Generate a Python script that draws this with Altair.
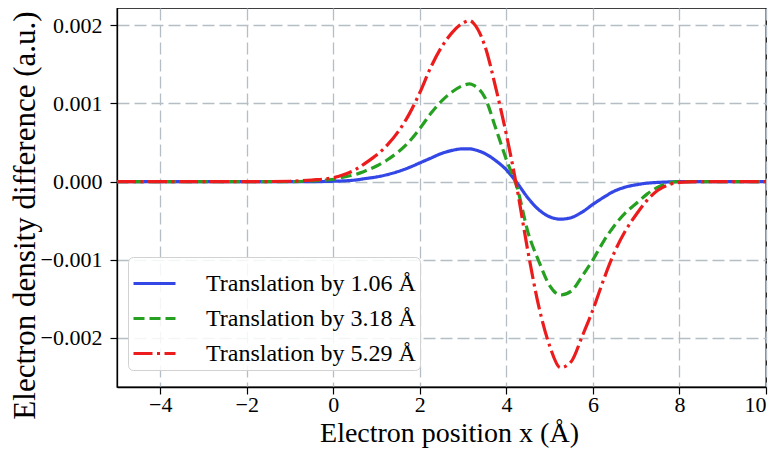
import altair as alt
import pandas as pd

# x positions (Å)
x_vals = [-5.0, -4.0, -3.0, -2.0, -1.0, -0.5, 0.0, 0.25, 0.5, 0.75, 1.0, 1.25, 1.5, 1.75,
          2.0, 2.25, 2.5, 2.75, 3.0, 3.15, 3.25, 3.5, 3.75, 4.0, 4.25, 4.5, 4.75, 5.0,
          5.25, 5.5, 5.75, 6.0, 6.25, 6.5, 6.75, 7.0, 7.25, 7.5, 7.75, 8.0, 8.5, 9.0, 10.0]

blue_vals = [0, 0, 0, 0, 0, 0, 0.000005, 0.00001, 0.00002, 0.00004, 0.00006, 0.00009, 0.00013, 0.00018,
             0.00024, 0.00030, 0.00036, 0.00040, 0.00042, 0.00042, 0.00041, 0.00036, 0.00027, 0.00015,
             -0.00002, -0.00021, -0.00036, -0.00045, -0.00048, -0.00046, -0.00039, -0.00029, -0.00020,
             -0.00012, -0.00007, -0.00004, -0.00002, -0.00001, -0.000004, 0, 0, 0, 0]

green_vals = [0, 0, 0, 0, 0, 0.00001, 0.00003, 0.00006, 0.00009, 0.00014, 0.00020, 0.00028, 0.00038, 0.00051,
              0.00068, 0.00087, 0.00103, 0.00115, 0.00123, 0.00125, 0.00123, 0.00108, 0.00069, 0.00028,
              -0.00008, -0.00065, -0.00102, -0.00133, -0.00145, -0.00140, -0.00121, -0.00100, -0.00076,
              -0.00056, -0.00040, -0.00028, -0.00016, -0.00007, -0.00002, 0, 0, 0, 0]

red_vals = [0, 0, 0, 0, 0.000005, 0.00002, 0.00005, 0.00009, 0.00015, 0.00024, 0.00034, 0.00047, 0.00064, 0.00086,
            0.00114, 0.00146, 0.00172, 0.00191, 0.00203, 0.00206, 0.00202, 0.00174, 0.00121, 0.00060,
            -0.00010, -0.00090, -0.00160, -0.00210, -0.00238, -0.00230, -0.00198, -0.00164, -0.00125,
            -0.00090, -0.00063, -0.00042, -0.00024, -0.00011, -0.00004, -0.00001, 0, 0, 0]

series_names = ["Translation by 1.06 Å", "Translation by 3.18 Å", "Translation by 5.29 Å"]
series_colors = ["#3346e6", "#26a020", "#ec1c1c"]
series_dashes = [[1, 0], [11, 5], [19, 4.5, 3, 4.5]]

x_ticks = [-4, -2, 0, 2, 4, 6, 8, 10]
y_ticks = [-0.002, -0.001, 0.0, 0.001, 0.002]

rows = []
for name, vals in zip(series_names, [blue_vals, green_vals, red_vals]):
    for xv, yv in zip(x_vals, vals):
        rows.append({"x": xv, "y": yv, "series": name})
df = pd.DataFrame(rows)

FONT = "Liberation Serif"

legend = alt.Legend(
    title=None, orient="none", legendX=11, legendY=249,
    symbolType="stroke", symbolSize=1764, symbolStrokeWidth=3,
    labelFont=FONT, labelFontSize=24, labelColor="black", labelLimit=400,
    labelOffset=29, padding=4, rowPadding=0,
    fillColor="rgba(255,255,255,0.85)", strokeColor="#d2d2d2", cornerRadius=5,
)

chart = alt.Chart(df).mark_line(strokeWidth=3.2, interpolate="monotone").encode(
    x=alt.X("x:Q", scale=alt.Scale(domain=[-5, 10], nice=False, zero=False),
            axis=alt.Axis(values=x_ticks, format="d", title="Electron position x (Å)",
                          titleX=332, titleY=54, titleBaseline="alphabetic",
                          titleFontSize=28, labelPadding=0)),
    y=alt.Y("y:Q", scale=alt.Scale(domain=[-0.002627, 0.002221], nice=False, zero=False),
            axis=alt.Axis(values=y_ticks, format=".3f", title="Electron density difference (a.u.)",
                          titleX=-83, titleY=207, titleBaseline="alphabetic", titleAlign="center",
                          titleAngle=270, titleFontSize=31, labelPadding=8)),
    color=alt.Color("series:N", scale=alt.Scale(domain=series_names, range=series_colors), legend=legend),
    strokeDash=alt.StrokeDash("series:N", scale=alt.Scale(domain=series_names, range=series_dashes), legend=legend),
).properties(
    width=649, height=379,
    autosize=alt.AutoSizeParams(type="none"),
    padding={"left": 109, "top": 0, "right": 2, "bottom": 63},
).configure_view(
    stroke="black", strokeWidth=1.3
).configure_axis(
    labelFont=FONT, labelFontSize=22, labelColor="black",
    titleFont=FONT, titleFontWeight="normal", titleColor="black",
    domainColor="black", domainWidth=1.3,
    tickColor="black", tickSize=7, tickWidth=1.2,
    grid=True, gridColor="#b5bec4", gridDash=[12, 5], gridWidth=1.3, gridOpacity=1,
)

chart.save("out.html", embed_options={"renderer": "svg", "actions": False})
